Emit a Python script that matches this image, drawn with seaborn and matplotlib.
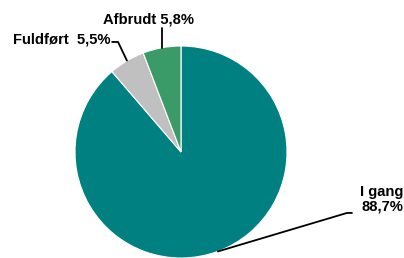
import matplotlib
matplotlib.use("Agg")
import matplotlib.pyplot as plt
import seaborn as sns

labels = ["I gang", "Fuldført", "Afbrudt"]
shares = [88.7, 5.5, 5.8]
colors = ["#008080", "#c0c0c0", "#3a9a68"]
label_texts = ["I gang\n88,7%", "Fuldført  5,5%", "Afbrudt 5,8%"]

sns.set_theme(style="white")
plt.rcParams["font.family"] = ["Liberation Sans", "DejaVu Sans"]

fig = plt.figure(figsize=(4.04, 2.58), dpi=100)
# square axes of 212 px, pie centred at (181, 152) px from top-left
ax = fig.add_axes([(181 - 106) / 404, 0, 212 / 404, 212 / 258])
ax.pie(shares, colors=colors, startangle=90, counterclock=False,
       wedgeprops=dict(linewidth=0.8, edgecolor="white"))
ax.set_xlim(-1, 1)
ax.set_ylim(-1, 1)
ax.set_aspect("equal")
ax.axis("off")

lw = 1.3
tk = dict(fontsize=10.6, fontweight="bold", color="black", clip_on=False)

# I gang
ax.plot([0.348, 1.566, 1.613], [-0.938, -0.575, -0.575], color="black", lw=lw, clip_on=False)
ax.text(2.094, -0.45, label_texts[0], ha="right", va="center", multialignment="right",
        linespacing=1.05, **tk)

# Fuldført
ax.plot([-0.51, -0.594, -0.65], [0.862, 1.038, 1.038], color="black", lw=lw, clip_on=False)
ax.text(-0.665, 1.06, label_texts[1], ha="right", va="center", **tk)

# Afbrudt
ax.plot([-0.179, -0.179], [0.985, 1.17], color="black", lw=lw, clip_on=False)
ax.text(-0.31, 1.185, label_texts[2], ha="center", va="bottom", **tk)

fig.savefig("out.png", dpi=100)
